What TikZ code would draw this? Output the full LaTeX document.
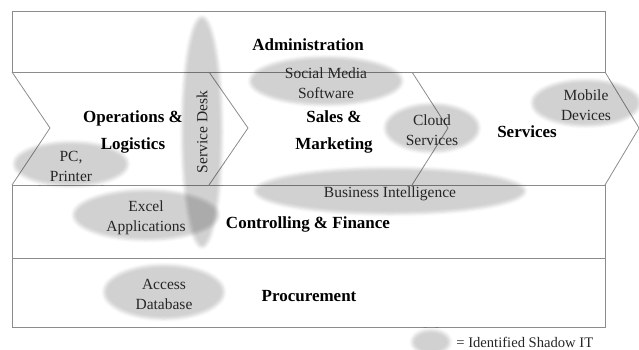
\documentclass[tikz,border=0pt]{standalone}
\usepackage{fontspec}
\setmainfont{Liberation Serif}
\usetikzlibrary{shapes.geometric, shadows.blur}

\tikzset{
    frame/.style = {draw = black!45, line width = 0.8pt},
    blob/.style = {ellipse, inner sep = 0pt, align = center, text = black!85,
        font = \fontsize{15.5}{20}\selectfont,
        blur shadow = {shadow xshift = 0pt, shadow yshift = 0pt, shadow blur radius = 3pt, shadow opacity = 18}},
    blobtext/.style = {align = center, text = black!85, yshift = -2.5pt,
        font = \fontsize{15.5}{20}\selectfont},
    area/.style = {align = center, font = \fontsize{17}{27}\selectfont\bfseries}
}

\begin{document}
\begin{tikzpicture}[x = 1pt, y = -1pt]
    \useasboundingbox (0, 0) rectangle (639, 349);

    % rows
    \draw[frame] (12, 11) rectangle (605, 72);
    \draw[frame] (12, 185) rectangle (605, 258);
    \draw[frame] (12, 258) rectangle (605, 327);

    % chevrons
    \draw[frame] (12, 72) -- (50, 128) -- (12, 185);
    \draw[frame] (209, 72) -- (248, 128) -- (209, 185);
    \draw[frame] (412, 72) -- (448, 128) -- (412, 185);
    \draw[frame] (605, 72) -- (639, 128) -- (605, 185);

    % shadow IT
    \node[blob, minimum width = 230, minimum height = 40, rotate = 90] (desk) at (202, 132){Service Desk};
    \node[blob, minimum width = 152, minimum height = 48, label = {[blobtext]center:{Social Media\\Software}}] (social) at (326, 81){};
    \node[blob, minimum width = 114, minimum height = 44, label = {[blobtext]center:{PC,\\Printer}}] (pc) at (71, 164){};
    \node[blob, minimum width = 94, minimum height = 48, label = {[blobtext]center:{Cloud\\Services}}] (cloud) at (432, 128){};
    \node[blob, minimum width = 108, minimum height = 46, label = {[blobtext]center:{Mobile\\Devices}}] (mobile) at (586, 103){};
    \node[blob, minimum width = 270, minimum height = 46, label = {[blobtext]center:{Business Intelligence}}] (bi) at (390, 191){};
    \node[blob, minimum width = 145, minimum height = 50, label = {[blobtext]center:{Excel\\Applications}}] (excel) at (146, 215){};
    \node[blob, minimum width = 120, minimum height = 54, label = {[blobtext]center:{Access\\Database}}] (access) at (164, 292){};

    % areas
    \node[area] (admin) at (308, 45){Administration};
    \node[area] (ops) at (133, 131.5){Operations \&\\Logistics};
    \node[area] (sales) at (334, 131.5){Sales \&\\Marketing};
    \node[area] (services) at (527, 132){Services};
    \node[area] (finance) at (308, 224){Controlling \& Finance};
    \node[area] (procure) at (309, 296){Procurement};

    % legend
    \node[blob, minimum width = 38, minimum height = 24] (key) at (431, 342){};
    \node[anchor = west, inner sep = 0pt, font = \fontsize{14.6}{17}\selectfont, text = black!85] (keytext) at ([xshift = 6pt]key.east){= Identified Shadow IT};
\end{tikzpicture}
\end{document}
